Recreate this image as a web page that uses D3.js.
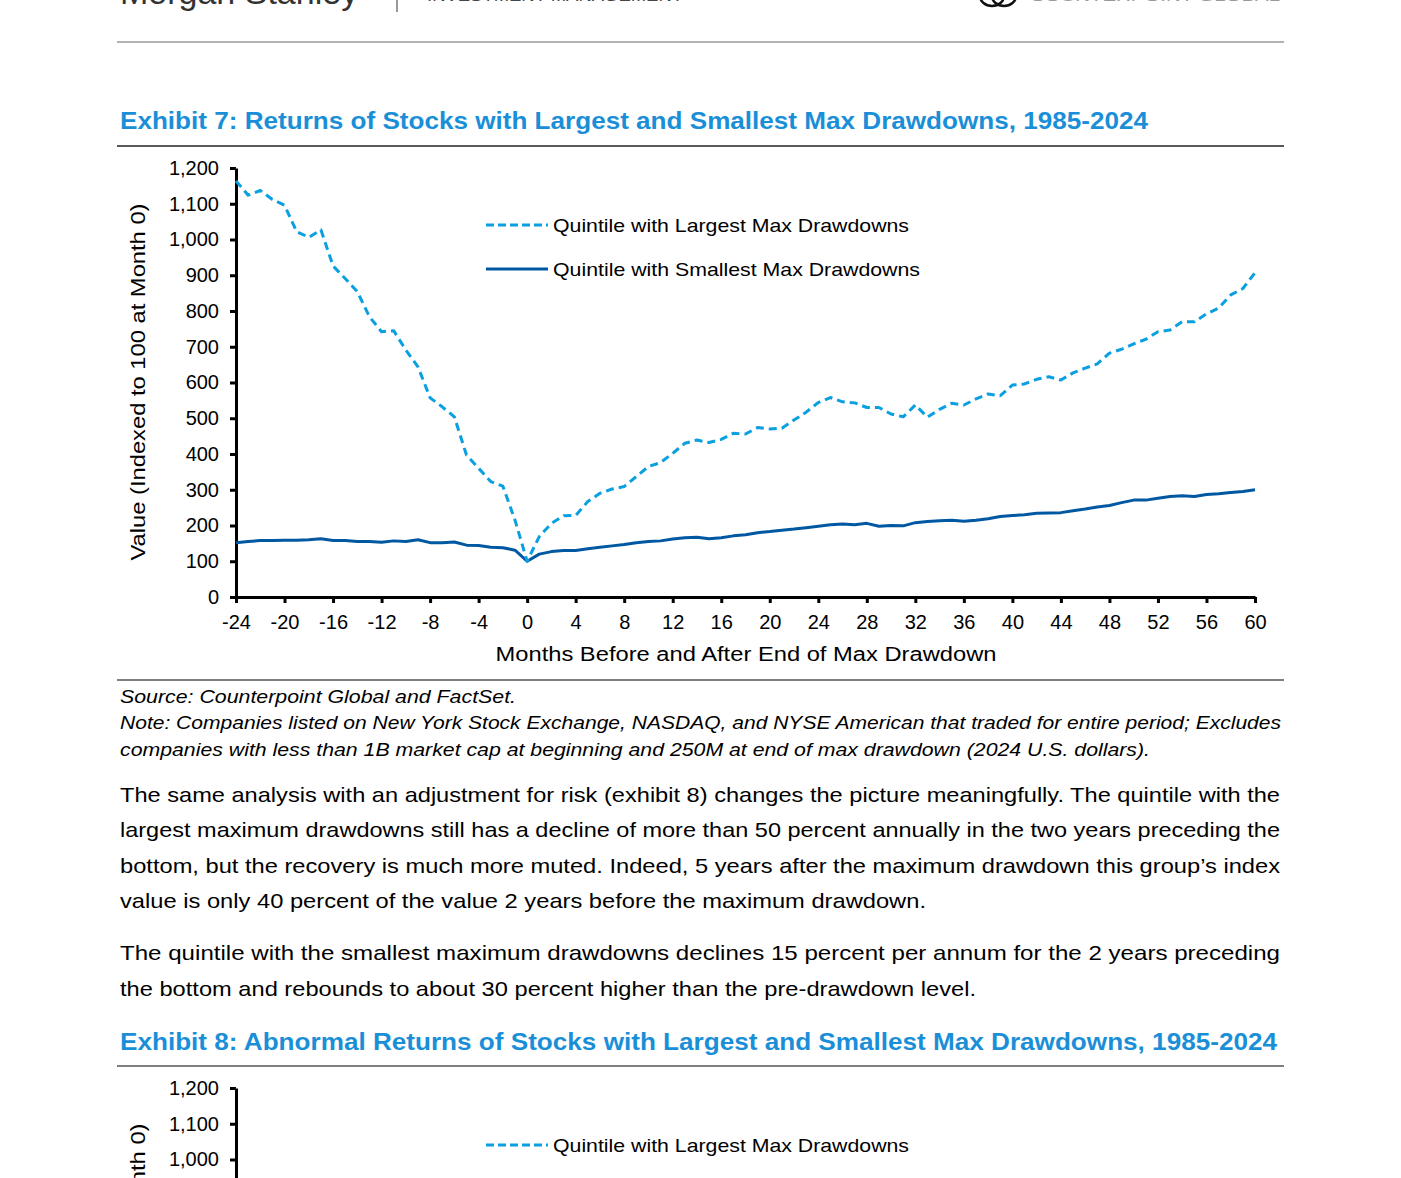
<!DOCTYPE html>
<html>
<head>
<meta charset="utf-8">
<script src="https://cdn.jsdelivr.net/npm/d3@7"></script>
<style>
  body { margin: 0; background: #fff; }
  svg { display: block; }
  text { font-family: "Liberation Sans", Arial, Helvetica, sans-serif; fill: #000; }
</style>
</head>
<body>
<div id="page"></div>
<script>
// months before/after the end of the max drawdown
const months = d3.range(-24, 61);

// quintile with largest max drawdowns (indexed to 100 at month 0)
const largest = [1164, 1124, 1137, 1112, 1096, 1022, 1006, 1027, 926, 891, 854, 784,
  742, 745, 691, 644, 557, 532, 504, 397, 360, 323, 310, 215,
  100,
  169, 206, 227, 228, 267, 290, 302, 309, 337, 365, 376, 402,
  430, 439, 432, 441, 458, 456, 474, 470, 472, 495, 517, 544,
  558, 546, 543, 530, 530, 512, 504, 537, 503, 525, 542, 537,
  554, 568, 563, 593, 596, 609, 616, 607, 627, 640, 652, 682,
  693, 708, 721, 742, 747, 770, 770, 792, 808, 845, 863, 907];

// quintile with smallest max drawdowns
const smallest = [152, 155, 158, 158, 159, 159, 160, 163, 158, 158, 155, 155,
  153, 157, 155, 160, 152, 152, 154, 145, 144, 139, 138, 131,
  100,
  120, 127, 130, 130, 135, 139, 143, 147, 152, 155, 157, 162,
  166, 167, 163, 166, 171, 174, 180, 183, 187, 190, 194, 198,
  202, 204, 202, 206, 198, 200, 199, 208, 211, 213, 215, 212,
  215, 219, 225, 228, 230, 234, 235, 236, 241, 246, 252, 256,
  264, 271, 271, 276, 281, 283, 281, 287, 289, 292, 295, 300];

const yTicks = [0, 100, 200, 300, 400, 500, 600, 700, 800, 900, 1000, 1100, 1200];
const xTicks = [-24, -20, -16, -12, -8, -4, 0, 4, 8, 12, 16, 20, 24, 28, 32, 36, 40, 44, 48, 52, 56, 60];
const seriesNames = ["Quintile with Largest Max Drawdowns", "Quintile with Smallest Max Drawdowns"];

const para1 = [
  "The same analysis with an adjustment for risk (exhibit 8) changes the picture meaningfully. The quintile with the",
  "largest maximum drawdowns still has a decline of more than 50 percent annually in the two years preceding the",
  "bottom, but the recovery is much more muted. Indeed, 5 years after the maximum drawdown this group\u2019s index",
  "value is only 40 percent of the value 2 years before the maximum drawdown."
];
const para2 = [
  "The quintile with the smallest maximum drawdowns declines 15 percent per annum for the 2 years preceding",
  "the bottom and rebounds to about 30 percent higher than the pre-drawdown level."
];

const W = 1401, H = 1178;
const lightBlue = "#0aa0e0";
const darkBlue = "#0058a2";
const titleBlue = "#1a8fd8";

const svg = d3.select("#page").append("svg")
  .attr("width", W)
  .attr("height", H);

function txt(x, y, s, size, opts = {}) {
  const t = svg.append("text")
    .attr("x", x)
    .attr("y", y)
    .attr("font-size", size)
    .text(s);
  if (opts.weight) t.attr("font-weight", opts.weight);
  if (opts.style) t.attr("font-style", opts.style);
  if (opts.fill) t.style("fill", opts.fill);
  if (opts.anchor) t.attr("text-anchor", opts.anchor);
  if (opts.w) t.attr("textLength", opts.w).attr("lengthAdjust", "spacingAndGlyphs");
  return t;
}

function rule(y, color, w) {
  svg.append("line")
    .attr("x1", 117).attr("x2", 1284)
    .attr("y1", y).attr("y2", y)
    .attr("stroke", color)
    .attr("stroke-width", w);
}

// page header (cut at top, as in the page)
txt(120, 4, "Morgan Stanley", 34, { fill: "#333" });
svg.append("line").attr("x1", 397).attr("x2", 397).attr("y1", 0).attr("y2", 12)
  .attr("stroke", "#555").attr("stroke-width", 1.2);
txt(427, 1, "INVESTMENT MANAGEMENT", 14, { fill: "#444", w: 256 });
svg.append("ellipse").attr("cx", 992).attr("cy", -4).attr("rx", 12).attr("ry", 10)
  .attr("fill", "none").attr("stroke", "#111").attr("stroke-width", 2.5);
svg.append("ellipse").attr("cx", 1004).attr("cy", -4).attr("rx", 12).attr("ry", 10)
  .attr("fill", "none").attr("stroke", "#111").attr("stroke-width", 2.5);
txt(1030, 1, "COUNTERPOINT GLOBAL", 13, { fill: "#999", w: 250 });
rule(42, "#999", 1.5);

// a chart block, top = pixel of the 1,200 tick
function drawChart(top, withLines, legendRows) {
  const x = d3.scaleLinear().domain([-24, 60]).range([236, 1255]);
  const y = d3.scaleLinear().domain([0, 1200]).range([top + 429, top]);

  const g = svg.append("g");

  const yAxis = g.append("g")
    .attr("transform", "translate(236,0)")
    .call(d3.axisLeft(y).tickValues(yTicks).tickSize(6).tickSizeOuter(0)
      .tickPadding(11).tickFormat(d3.format(",")));
  const xAxis = g.append("g")
    .attr("transform", `translate(0,${y(0)})`)
    .call(d3.axisBottom(x).tickValues(xTicks).tickSize(6).tickSizeOuter(0)
      .tickPadding(12).tickFormat(d => d));

  [yAxis, xAxis].forEach(a => {
    a.select(".domain").attr("stroke", "#000").attr("stroke-width", 3);
    a.selectAll(".tick line").attr("stroke", "#000").attr("stroke-width", 3);
    a.selectAll(".tick text")
      .attr("font-size", 20)
      .attr("font-family", "Liberation Sans, Arial, sans-serif")
      .style("fill", "#000");
  });

  // y title
  g.append("text")
    .attr("transform", `translate(145,${top + 214}) rotate(-90)`)
    .attr("text-anchor", "middle")
    .attr("font-size", 20)
    .attr("textLength", 357)
    .attr("lengthAdjust", "spacingAndGlyphs")
    .text("Value (Indexed to 100 at Month 0)");

  // x title
  g.append("text")
    .attr("x", 746)
    .attr("y", y(0) + 64)
    .attr("text-anchor", "middle")
    .attr("font-size", 20)
    .attr("textLength", 501)
    .attr("lengthAdjust", "spacingAndGlyphs")
    .text("Months Before and After End of Max Drawdown");

  if (withLines) {
    const line = vals => d3.line()
      .x((d, i) => x(months[i]))
      .y(d => y(d))(vals);

    g.append("path")
      .attr("d", line(smallest))
      .attr("fill", "none")
      .attr("stroke", darkBlue)
      .attr("stroke-width", 3)
      .attr("stroke-linejoin", "round");

    g.append("path")
      .attr("d", line(largest))
      .attr("fill", "none")
      .attr("stroke", lightBlue)
      .attr("stroke-width", 3)
      .attr("stroke-dasharray", "8,5")
      .attr("stroke-linejoin", "round");
  }

  // legend
  const widths = [356, 367];
  legendRows.forEach((i, k) => {
    const ly = top + 57 + k * 44;
    g.append("line")
      .attr("x1", 486).attr("x2", 548)
      .attr("y1", ly).attr("y2", ly)
      .attr("stroke", i === 0 ? lightBlue : darkBlue)
      .attr("stroke-width", 3)
      .attr("stroke-dasharray", i === 0 ? "8,4" : null);
    g.append("text")
      .attr("x", 553)
      .attr("y", ly + 7)
      .attr("font-size", 19)
      .attr("textLength", widths[i])
      .attr("lengthAdjust", "spacingAndGlyphs")
      .text(seriesNames[i]);
  });
}

// Exhibit 7
txt(120, 129, "Exhibit 7: Returns of Stocks with Largest and Smallest Max Drawdowns, 1985-2024", 24,
  { weight: "bold", fill: titleBlue, w: 1028 });
rule(146, "#222", 1.3);
drawChart(168, true, [0, 1]);
rule(680, "#555", 1.5);

txt(120, 703, "Source: Counterpoint Global and FactSet.", 19, { style: "italic", w: 396 });
txt(120, 729, "Note: Companies listed on New York Stock Exchange, NASDAQ, and NYSE American that traded for entire period; Excludes", 19,
  { style: "italic", w: 1161 });
txt(120, 756, "companies with less than 1B market cap at beginning and 250M at end of max drawdown (2024 U.S. dollars).", 19,
  { style: "italic", w: 1030 });

// body text
const p1w = [1160, 1160, 1160, 806];
para1.forEach((s, i) => txt(120, 802 + i * 35.3, s, 21, { w: p1w[i] }));
const p2w = [1160, 856];
para2.forEach((s, i) => txt(120, 960 + i * 35.5, s, 21, { w: p2w[i] }));

// Exhibit 8 (cut at page bottom)
txt(120, 1050, "Exhibit 8: Abnormal Returns of Stocks with Largest and Smallest Max Drawdowns, 1985-2024", 24,
  { weight: "bold", fill: titleBlue, w: 1157 });
rule(1066, "#555", 1.5);
drawChart(1088, false, [0]);
</script>
</body>
</html>
